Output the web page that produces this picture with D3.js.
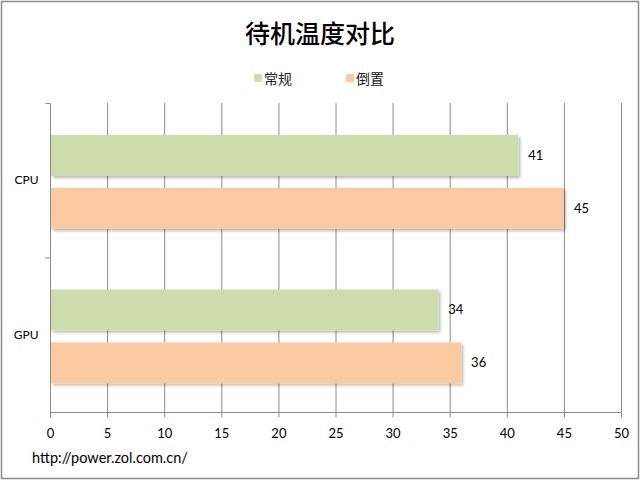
<!DOCTYPE html>
<html><head><meta charset="utf-8">
<script src="https://cdn.jsdelivr.net/npm/d3@7/dist/d3.min.js"></script>
<style>body{margin:0;background:#fff;}svg{display:block;}</style>
</head><body>
<script>
const categories = ["CPU", "GPU"];
const seriesNames = ["常规", "倒置"];
const normalValues = [41, 34];
const invertedValues = [45, 36];
const xTicks = [0,5,10,15,20,25,30,35,40,45,50];
const colors = ["#cfdcab", "#fbcaa0"];
const title = "待机温度对比";
const footer = "http://power.zol.com.cn/";

const W = 640, H = 480;
const svg = d3.select("body").append("svg").attr("width", W).attr("height", H);
const defs = svg.append("defs");
const f = defs.append("filter").attr("id","sh").attr("x","-5%").attr("y","-20%").attr("width","115%").attr("height","150%");
f.append("feDropShadow").attr("dx",2).attr("dy",2).attr("stdDeviation",1.5).attr("flood-color","#000").attr("flood-opacity",0.28);

svg.append("rect").attr("x",1.5).attr("y",1.5).attr("width",W-3).attr("height",H-3)
  .attr("fill","#fff").attr("stroke","#8c8c8c").attr("stroke-width",1.5);

const cjk = "'Noto Sans CJK SC', 'Noto Sans', sans-serif";
const lat = "Lato, 'Open Sans', sans-serif";

svg.append("text").attr("x",320).attr("y",43).attr("text-anchor","middle")
  .attr("font-family",cjk).attr("font-size",25).attr("font-weight",500).attr("fill","#000").text(title);

const x = d3.scaleLinear().domain([0,50]).range([50,621]);
const y = d3.scaleBand().domain(categories).range([103,412]);
const sub = d3.scaleBand().domain(seriesNames).range([y.bandwidth()*0.207, y.bandwidth()*0.815]).paddingInner(0.226);

// legend
const legX = [254, 346];
seriesNames.forEach((s,i)=>{
  svg.append("rect").attr("x",legX[i]).attr("y",74).attr("width",8).attr("height",8).attr("fill",colors[i]);
  svg.append("text").attr("x",legX[i]+10).attr("y",84).attr("font-family",cjk).attr("font-size",14).attr("fill","#222").text(s);
});

// gridlines
svg.append("g").selectAll("line").data(xTicks.slice(1)).join("line")
  .attr("x1",d=>x(d)+0.5).attr("x2",d=>x(d)+0.5).attr("y1",103).attr("y2",412)
  .attr("stroke","#8a8a8a").attr("stroke-width",1);

// bars
const data = [];
categories.forEach((c,ci)=>{
  data.push({c, s:seriesNames[0], v:normalValues[ci], col:colors[0]});
  data.push({c, s:seriesNames[1], v:invertedValues[ci], col:colors[1]});
});
const g = svg.append("g");
g.selectAll("rect").data(data).join("rect")
  .attr("x",x(0)+1).attr("y",d=>y(d.c)+sub(d.s))
  .attr("width",d=>x(d.v)-x(0)-1).attr("height",sub.bandwidth())
  .attr("fill",d=>d.col).attr("filter","url(#sh)");
g.selectAll("text").data(data).join("text")
  .attr("x",d=>x(d.v)+10).attr("y",d=>y(d.c)+sub(d.s)+sub.bandwidth()/2+4.5)
  .attr("font-family",lat).attr("font-size",13).attr("fill","#000").text(d=>d.v);

// x axis
const xa = svg.append("g").attr("transform","translate(0,412.5)")
  .call(d3.axisBottom(x).tickValues(xTicks).tickSize(5).tickFormat(d3.format("d")));
xa.select(".domain").attr("stroke","#8a8a8a").attr("d","M50,0H621");
xa.selectAll(".tick line").attr("stroke","#8a8a8a").attr("y1",0).attr("y2",5);
xa.selectAll(".tick text").attr("font-family",lat).attr("font-size",13).attr("fill","#000").attr("dy","1.35em");

// y axis
const ya = svg.append("g").attr("transform","translate(50.5,0)")
  .call(d3.axisLeft(y).tickSize(0).tickPadding(12));
ya.select(".domain").attr("stroke","#8a8a8a").attr("d","M-5,103.5H0V412");
ya.selectAll(".tick text").attr("font-family",lat).attr("font-size",12).attr("fill","#000");
svg.append("g").selectAll("line").data(categories.slice(1)).join("line")
  .attr("x1",45).attr("x2",50).attr("y1",d=>y(d)+0.5).attr("y2",d=>y(d)+0.5).attr("stroke","#8a8a8a");

svg.append("text").attr("x",32).attr("y",463).attr("font-family",lat).attr("font-size",14.5).attr("fill","#000").text(footer);
</script>
</body></html>
